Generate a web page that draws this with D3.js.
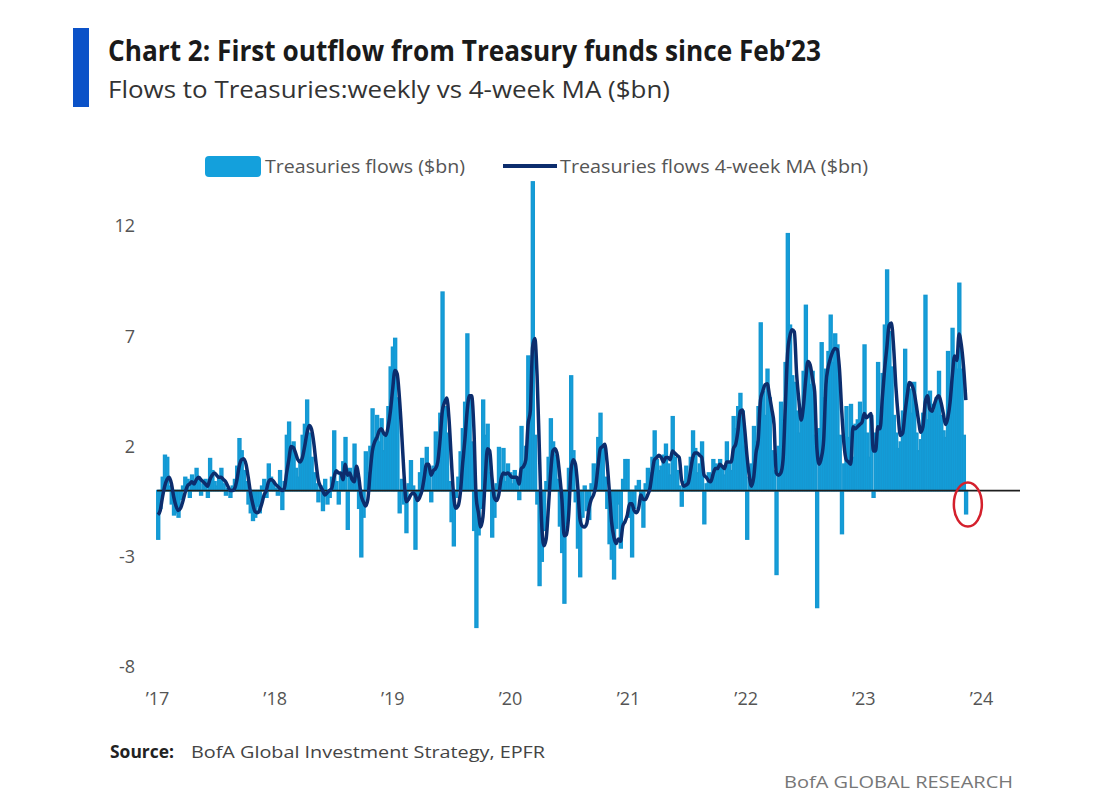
<!DOCTYPE html>
<html>
<head>
<meta charset="utf-8">
<script src="https://cdn.jsdelivr.net/npm/d3@7"></script>
<style>
  body { margin: 0; background: #fff; }
  svg { display: block; font-family: "Open Sans", "Noto Sans", sans-serif; }
</style>
</head>
<body>
<svg id="chart" width="1100" height="810"></svg>
<script>
// weekly flows to Treasury funds ($bn), one array per year
var flows2017 = [-2.2, -0.8, 0.6, 1.6, 1.5, 0.2, -0.6, -1.1, -1.0, -1.2,
  -0.4, 0.2, 0.6, 0.5, -0.3, 0.7, 0.4, 1.0, 0.6, -0.2,
  0.3, 0.5, -0.3, 1.45, 0.9, 0.4, 0.2, 0.6, 1.0, 0.3,
  -0.2, 0.1, -0.3, 0.2, 0.5, 1.1, 2.35, 1.8, 0.9, 0.4,
  -0.6, -1.0, -1.35, -1.2, -0.7, -1.0, 0.2, 0.5, -0.3, 1.2,
  0.6, 0.3];
var flows2018 = [0.1, -0.2, 0.9, -0.85, 0.4, 2.5, 3.1, 1.8, 2.2, 1.0,
  0.6, 1.4, 2.5, 3.0, 4.1, 2.6, 1.5, 0.8, 0.3, -0.5,
  0.2, -0.9, 0.5, -0.6, -0.3, 0.6, 2.7, 0.4, -0.6, 0.8,
  1.3, 2.4, -1.75, 1.0, 0.3, 2.1, 0.9, -0.8, -3.0, -1.2,
  1.75, 0.8, 2.0, 3.7, 2.4, 3.4, 2.2, 3.25, 1.8, 2.6,
  3.8, 5.6];
var flows2019 = [6.5, 6.9, 4.2, -1.0, 0.5, -0.6, -1.9, 0.3, 1.35, 0.2,
  -2.65, -0.4, 0.8, 1.45, 0.6, 1.95, 0.9, -0.5, 1.1, 2.65,
  1.8, 3.5, 9.0, 3.8, 2.6, 0.4, -1.4, -2.5, -0.3, 0.6,
  1.75, 2.8, 4.0, 7.1, 4.3, 2.2, -1.8, -6.2, -2.0, -0.8,
  4.1, 2.5, 3.0, 0.8, -2.1, -1.2, 0.3, 1.95, 0.6, 1.9,
  0.4, 1.2];
var flows2020 = [0.8, 0.3, 0.9, 0.5, -0.4, 2.9, 1.2, 2.0, 6.1, 5.0,
  14.0, 2.5, -0.6, -4.3, -3.2, -1.8, 0.4, 1.5, 3.25, 2.2,
  1.6, 0.5, -1.6, -2.8, -5.1, -1.5, 1.0, 5.2, 1.8, -0.5,
  -2.6, -3.9, -1.2, 0.2, -0.9, -1.3, 0.3, 1.2, 0.5, 2.4,
  3.5, 2.0, 0.6, -0.8, -2.4, -3.1, -4.0, -1.7, -0.6, -2.6,
  0.5, 1.4];
var flows2021 = [1.4, -1.2, -3.0, -0.8, 0.2, 0.45, -0.5, -1.65, 0.3, 1.0,
  0.8, 1.5, 2.7, 1.4, 0.9, 1.1, 1.6, 2.1, 1.2, 0.7,
  3.35, 1.5, 0.9, 0.2, -0.7, 0.4, 1.1, 0.6, 1.5, 2.7,
  1.9, 0.8, 1.2, 2.2, -1.5, 0.3, 0.8, 0.5, 1.4, 1.2,
  0.9, 1.4, 1.0, 0.7, 2.2, 1.3, 0.9, 3.35, 2.8, 3.8,
  4.4, 3.6];
var flows2022 = [2.0, -2.2, 0.6, 1.2, 2.9, 2.2, 3.8, 7.6, 4.5, 3.4,
  5.5, 4.2, 1.8, 0.9, -3.8, 2.0, 4.0, 3.2, 5.8, 11.65,
  7.5, 5.2, 4.9, 3.6, 2.6, 3.5, 5.4, 8.4, 5.6, 4.8,
  5.4, 2.5, -5.3, 2.8, 6.7, 4.2, 5.5, 6.3, 7.95, 5.8,
  7.1, 6.6, 2.5, -1.95, 1.2, 3.8, 2.4, 3.9, 1.5, 3.0,
  3.2, 4.0];
var flows2023 = [3.0, 6.6, 2.6, 1.5, 3.4, -0.3, 2.6, 5.8, 3.2, 5.3,
  7.5, 10.0, 7.2, 5.6, 3.4, 2.6, 1.9, 2.2, 3.6, 6.4,
  4.8, 4.6, 3.5, 4.9, 2.6, 1.8, 2.3, 3.5, 8.85, 3.2,
  4.5, 3.9, 3.6, 4.2, 5.4, 3.4, 2.7, 2.4, 6.3, 4.6,
  7.35, 6.0, 5.5, 9.4, 5.5, 2.5, -1.05];

// 4-week moving average ($bn)
var ma2017 = [-1.1, -0.9, -0.3, 0.2, 0.5, 0.6, 0.3, -0.3, -0.7, -0.9,
  -0.8, -0.5, -0.1, 0.2, 0.3, 0.4, 0.3, 0.5, 0.6, 0.5,
  0.4, 0.3, 0.2, 0.5, 0.7, 0.8, 0.7, 0.6, 0.6, 0.5,
  0.4, 0.2, 0.0, 0.0, 0.1, 0.5, 1.1, 1.4, 1.45, 1.2,
  0.6, -0.1, -0.6, -0.95, -1.0, -0.9, -0.6, -0.2, 0.0, 0.4,
  0.5, 0.45];
var ma2018 = [0.3, 0.2, 0.1, 0.0, 0.1, 0.8, 1.4, 2.0, 1.95, 1.7,
  1.4, 1.3, 1.5, 2.0, 2.6, 2.95, 2.8, 2.2, 1.3, 0.5,
  0.2, 0.0, -0.2, -0.1, 0.0, 0.1, 0.6, 0.9, 0.8, 0.8,
  0.5, 1.2, 0.7, 0.8, 0.5, 0.4, 1.1, 0.6, -0.2, -0.5,
  -0.7, -0.4, 0.8, 1.8, 2.2, 2.4, 2.7, 2.8, 2.6, 2.5,
  2.9, 3.6];
var ma2019 = [4.6, 5.45, 5.3, 4.2, 2.6, 0.8, -0.5, -0.4, -0.2, -0.1,
  -0.2, -0.45, -0.3, 0.0, 0.6, 1.2, 1.2, 0.7, 0.9, 1.0,
  1.3, 2.3, 3.6, 4.0, 4.2, 3.2, 1.4, -0.2, -0.8, -0.7,
  -0.1, 1.2, 2.3, 3.6, 4.3, 4.3, 2.8, -0.3, -1.0, -1.65,
  -1.2, 0.5, 1.9, 1.8, 0.6, -0.3, -0.45, -0.2, 0.5, 0.8,
  0.75, 0.8];
var ma2020 = [0.7, 0.6, 0.6, 0.6, 0.3, 1.0, 1.1, 1.4, 3.0, 3.6,
  6.5, 6.9, 5.2, 1.9, -1.4, -2.5, -2.2, -0.8, 0.8, 1.8,
  1.9, 1.6, 0.7, -0.4, -2.05, -2.0, -1.1, 0.9, 1.4, 1.2,
  0.2, -1.3, -1.6, -1.65, -1.5, -0.8, -0.4, -0.2, 0.2, 1.1,
  1.9, 2.0, 2.1, 1.3, 0.0, -1.4, -2.1, -2.4, -2.2, -2.3,
  -1.6, -1.4];
var ma2021 = [-1.1, -0.6, -0.6, -0.9, -1.0, -0.8, -0.2, -0.4, -0.4, -0.2,
  0.1, 0.8, 1.4, 1.5, 1.6, 1.5, 1.3, 1.5, 1.5, 1.4,
  1.8, 1.7, 1.6, 1.5, 0.5, 0.2, 0.25, 0.35, 0.9, 1.5,
  1.7, 1.7, 1.6, 1.5, 0.7, 0.6, 0.45, 0.4, 0.75, 1.0,
  1.0, 1.2, 1.1, 1.0, 1.3, 1.3, 1.3, 1.9, 2.1, 2.7,
  3.6, 3.65];
var ma2022 = [2.8, 1.6, 0.7, 0.2, 0.6, 1.7, 2.3, 4.1, 4.5, 4.8,
  4.85, 4.3, 3.7, 3.0, 0.8, 0.7, 0.8, 1.4, 3.8, 6.2,
  7.0, 7.3, 7.2, 5.3, 4.1, 3.2, 3.8, 5.0, 5.85, 5.7,
  5.1, 4.5, 1.9, 1.2, 1.5, 2.3, 4.8, 5.6, 6.0, 6.3,
  6.45, 6.4, 5.5, 3.6, 2.1, 1.4, 1.3, 1.2, 2.9, 2.8,
  2.9, 3.0];
var ma2023 = [3.1, 3.5, 3.3, 3.4, 3.5, 1.8, 1.8, 2.9, 2.8, 4.2,
  5.5, 6.5, 7.5, 7.6, 6.5, 4.7, 3.4, 2.5, 2.6, 3.5,
  4.3, 4.9, 4.8, 4.5, 3.9, 3.2, 2.65, 2.9, 4.0, 4.3,
  3.7, 3.6, 3.9, 4.2, 4.3, 4.0, 3.5, 3.0, 3.3, 4.0,
  5.2, 6.1, 5.9, 7.1, 6.6, 5.6, 4.1];

var yearTicks = [2017, 2018, 2019, 2020, 2021, 2022, 2023, 2024];
var yearLabels = ["’17", "’18", "’19", "’20", "’21", "’22", "’23", "’24"];
var yTicks = [12, 7, 2, -3, -8];

var barColor = "#14a0dc";
var barEdge = "#1598d2";
var lineColor = "#0c2d6d";

var flows = [].concat(flows2017, flows2018, flows2019, flows2020, flows2021, flows2022, flows2023);
var ma = [].concat(ma2017, ma2018, ma2019, ma2020, ma2021, ma2022, ma2023);
var firstWeek = new Date(2017, 0, 4);
var weeks = flows.map(function(v, i){
    return {date: d3.timeDay.offset(firstWeek, 7 * i), flow: v, ma: ma[i]};
});

var svg = d3.select('#chart');
svg.append('rect').attr('width', 1100).attr('height', 810).attr('fill', '#fff');

var x = d3.scaleTime()
    .domain([new Date(2017, 0, 1), new Date(2024, 0, 1)])
    .range([157, 981]);
var y = d3.scaleLinear()
    .domain([-8, 12])
    .range([667, 226]);

// header
svg.append('rect')
    .attr('x', 73).attr('y', 28)
    .attr('width', 16).attr('height', 79)
    .attr('fill', '#0b52c8');
svg.append('text')
    .attr('x', 108).attr('y', 61)
    .attr('font-size', 28).attr('font-weight', 'bold')
    .attr('fill', '#1a1a1a')
    .attr('textLength', 713).attr('lengthAdjust', 'spacingAndGlyphs')
    .text('Chart 2: First outflow from Treasury funds since Feb’23');
svg.append('text')
    .attr('x', 108).attr('y', 98)
    .attr('font-size', 24)
    .attr('fill', '#333')
    .attr('textLength', 562).attr('lengthAdjust', 'spacingAndGlyphs')
    .text('Flows to Treasuries:weekly vs 4-week MA ($bn)');

// legend
var legend = svg.append('g').attr('class', 'legend');
legend.append('rect')
    .attr('x', 205).attr('y', 156)
    .attr('width', 56).attr('height', 21).attr('rx', 4)
    .attr('fill', barColor);
legend.append('text')
    .attr('x', 265).attr('y', 173)
    .attr('font-size', 18).attr('fill', '#555')
    .attr('textLength', 200).attr('lengthAdjust', 'spacingAndGlyphs')
    .text('Treasuries flows ($bn)');
legend.append('line')
    .attr('x1', 503).attr('x2', 557)
    .attr('y1', 166).attr('y2', 166)
    .attr('stroke', lineColor).attr('stroke-width', 4);
legend.append('text')
    .attr('x', 560).attr('y', 173)
    .attr('font-size', 18).attr('fill', '#555')
    .attr('textLength', 308).attr('lengthAdjust', 'spacingAndGlyphs')
    .text('Treasuries flows 4-week MA ($bn)');

// weekly bars
var bw = x(d3.timeDay.offset(firstWeek, 7)) - x(firstWeek);
svg.append('g')
    .attr('class', 'bars')
    .selectAll('rect')
    .data(weeks)
    .enter()
    .append('rect')
    .attr('x', function(d){ return x(d.date) - bw / 2; })
    .attr('width', bw + 0.5)
    .attr('y', function(d){ return y(Math.max(0, d.flow)); })
    .attr('height', function(d){ return Math.abs(y(d.flow) - y(0)); })
    .attr('fill', barColor)
    .attr('stroke', barEdge)
    .attr('stroke-width', 1.6);

// zero line
svg.append('line')
    .attr('x1', 157).attr('x2', 1020)
    .attr('y1', y(0)).attr('y2', y(0))
    .attr('stroke', '#1e1e1e').attr('stroke-width', 1.8);

// moving average
var line = d3.line()
    .x(function(d){ return x(d.date); })
    .y(function(d){ return y(d.ma); })
    .curve(d3.curveMonotoneX);
svg.append('path')
    .datum(weeks)
    .attr('d', line)
    .attr('fill', 'none')
    .attr('stroke', lineColor)
    .attr('stroke-width', 3.5)
    .attr('stroke-linejoin', 'round');

// red circle around the last week
var last = weeks[weeks.length - 1];
svg.append('ellipse')
    .attr('cx', x(last.date) + 2)
    .attr('cy', y(last.flow * 0.6))
    .attr('rx', 14).attr('ry', 22)
    .attr('fill', 'none')
    .attr('stroke', '#d4202c').attr('stroke-width', 2.5);

// axes
var yAxis = svg.append('g')
    .attr('transform', 'translate(135,0)')
    .call(d3.axisLeft(y).tickValues(yTicks)
        .tickFormat(function(d){ return String(d); })
        .tickSize(0).tickPadding(0));
yAxis.select('.domain').remove();
yAxis.selectAll('text')
    .attr('font-size', 18).attr('fill', '#555')
    .attr('font-family', '"Open Sans", sans-serif');

var xAxis = svg.append('g')
    .attr('transform', 'translate(0,692)')
    .call(d3.axisBottom(x)
        .tickValues(yearTicks.map(function(yr){ return new Date(yr, 0, 1); }))
        .tickFormat(function(d, i){ return yearLabels[i]; })
        .tickSize(0).tickPadding(0));
xAxis.select('.domain').remove();
xAxis.selectAll('text')
    .attr('font-size', 18).attr('fill', '#555')
    .attr('font-family', '"Open Sans", sans-serif');

// footer
svg.append('text')
    .attr('x', 110).attr('y', 758)
    .attr('font-size', 17).attr('font-weight', 'bold').attr('fill', '#222')
    .attr('textLength', 64).attr('lengthAdjust', 'spacingAndGlyphs')
    .text('Source:');
svg.append('text')
    .attr('x', 191).attr('y', 758)
    .attr('font-size', 17).attr('fill', '#444')
    .attr('textLength', 354).attr('lengthAdjust', 'spacingAndGlyphs')
    .text('BofA Global Investment Strategy, EPFR');
svg.append('text')
    .attr('x', 1013).attr('y', 788)
    .attr('text-anchor', 'end')
    .attr('font-size', 17).attr('fill', '#777')
    .attr('textLength', 229).attr('lengthAdjust', 'spacingAndGlyphs')
    .text('BofA GLOBAL RESEARCH');
</script>
</body>
</html>
